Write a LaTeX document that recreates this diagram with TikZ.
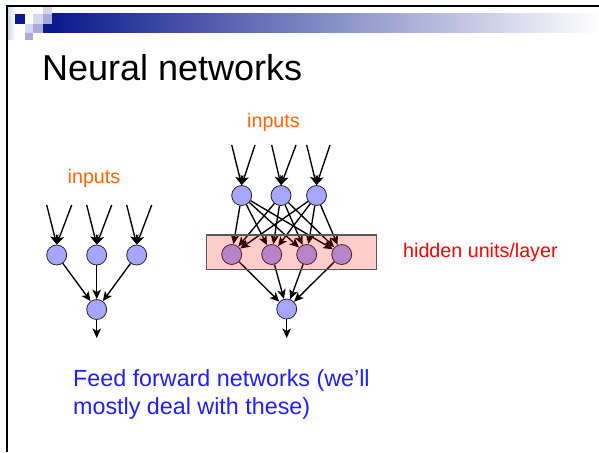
\documentclass[tikz,border=0pt]{standalone}
\usepackage{fontspec}
\setmainfont{Liberation Sans}
\usetikzlibrary{arrows.meta}
\definecolor{navy}{RGB}{10,25,140}
\definecolor{nodeblue}{RGB}{166,166,255}
\definecolor{lavlight}{RGB}{214,214,238}
\definecolor{lavmid}{RGB}{170,170,216}
\definecolor{inorange}{RGB}{255,102,0}
\definecolor{ffblue}{RGB}{32,32,255}
\begin{document}
\begin{tikzpicture}[x=1pt,y=-1pt,
  neuron/.style={circle, draw=black!85, line width=0.8pt, fill=nodeblue, minimum size=20pt, inner sep=0pt},
  conn/.style={line width=1.35pt, -{Stealth[length=9.5pt,width=8.5pt,inset=2.5pt]}},
  lbl/.style={font=\fontsize{19.7}{23}\selectfont, inner sep=0pt, anchor=base},
  ff/.style={font=\fontsize{23.3}{28}\selectfont, text=ffblue, inner sep=0pt, anchor=base west},
]
\useasboundingbox (0,0) rectangle (599,452);
\fill[white] (0,0) rectangle (599,452);
% header bar and logo
\shade[left color=navy, right color=white] (52,14) rectangle (599,33);
\shade[left color=lavlight, right color=white] (8,7) rectangle (15,40);
\fill[navy] (15,14) rectangle (25,24);
\fill[navy] (43,24) rectangle (52,33);
\fill[lavlight] (43,7) rectangle (52,14);
\fill[lavlight] (33,14) rectangle (43,24);
\fill[lavmid] (43,14) rectangle (52,24);
\fill[lavlight] (25,24) rectangle (33,33);
\fill[lavmid] (33,24) rectangle (43,33);
\fill[lavmid] (25,33) rectangle (33,40);
\draw[line width=2pt] (7,452) -- (7,6) -- (599,6);
% title
\node[anchor=base west, inner sep=0pt, font=\fontsize{36}{43}\selectfont] (title) at (42,81) {Neural networks};
% labels
\node[lbl, text=inorange] (inL) at (94,183) {inputs};
\node[lbl, text=inorange] (inR) at (273.5,127.3) {inputs};
\node[lbl, text=red, anchor=base west] (hidlbl) at (403,257) {hidden units/layer};
\node[ff] (ff1) at (73,386) {Feed forward networks (we’ll};
\node[ff] (ff2) at (73,414) {mostly deal with these)};
% left network
\node[neuron] (a1) at (56.7,255) {};
\node[neuron] (a2) at (96.7,255) {};
\node[neuron] (a3) at (136.7,255) {};
\node[neuron] (aout) at (96.7,309.5) {};
\coordinate (a1l) at (46.7,205);
\coordinate (a1r) at (71.7,205);
\coordinate (a2l) at (86.7,205);
\coordinate (a2r) at (111.7,205);
\coordinate (a3l) at (126.7,205);
\coordinate (a3r) at (151.7,205);
\coordinate (aend) at (96.7,338);
\foreach \n in {a1,a2,a3}{
  \draw[conn] (\n l) -- (\n.north);
  \draw[conn] (\n r) -- (\n.north);
  \draw[conn] (\n) -- (aout);
}
\draw[conn] (aout) -- (aend);
% right network
\node[neuron] (b1) at (241.7,195.5) {};
\node[neuron] (b2) at (281,195.5) {};
\node[neuron] (b3) at (316.5,195.5) {};
\node[neuron] (h1) at (231.7,254.5) {};
\node[neuron] (h2) at (271.7,254.5) {};
\node[neuron] (h3) at (306.7,254.5) {};
\node[neuron] (h4) at (341.7,254.5) {};
\node[neuron] (bout) at (286.7,309) {};
\coordinate (b1l) at (231.7,145);
\coordinate (b1r) at (255,145);
\coordinate (b2l) at (271.7,145);
\coordinate (b2r) at (296,145);
\coordinate (b3l) at (306.7,145);
\coordinate (b3r) at (330,145);
\coordinate (bend) at (286.7,338);
\foreach \n in {b1,b2,b3}{
  \draw[conn] (\n l) -- (\n.north);
  \draw[conn] (\n r) -- (\n.north);
  \foreach \m in {h1,h2,h3,h4}{
    \draw[conn] (\n) -- (\m);
  }
}
\foreach \m in {h1,h2,h3,h4}{
  \draw[conn] (\m) -- (bout);
}
\draw[conn] (bout) -- (bend);
% translucent hidden layer box
\node[draw=black!65, line width=1.5pt, fill=red, fill opacity=0.2, draw opacity=1,
      minimum width=170pt, minimum height=34.5pt, inner sep=0pt] (hidbox) at (291.7,252.25) {};
\end{tikzpicture}
\end{document}
